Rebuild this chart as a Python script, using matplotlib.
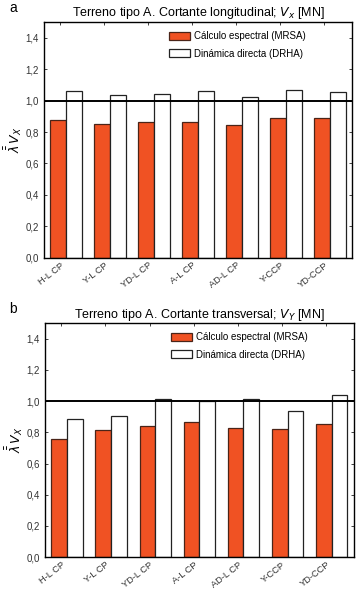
import matplotlib
matplotlib.use("Agg")
import matplotlib.pyplot as plt
from matplotlib.ticker import FuncFormatter
import numpy as np

categories = ["H-L CP", "Y-L CP", "YD-L CP", "A-L CP", "AD-L CP", "Y-CCP", "YD-CCP"]
mrsa_long = [0.875, 0.850, 0.862, 0.862, 0.842, 0.892, 0.888]
drha_long = [1.062, 1.037, 1.045, 1.062, 1.020, 1.066, 1.057]
mrsa_trans = [0.755, 0.812, 0.842, 0.867, 0.830, 0.820, 0.852]
drha_trans = [0.887, 0.907, 1.012, 1.003, 1.012, 0.935, 1.040]
yticks = [0.0, 0.2, 0.4, 0.6, 0.8, 1.0, 1.2, 1.4]

RED = "#F05223"
plt.rcParams['font.family'] = ['Liberation Sans', 'DejaVu Sans']

fig = plt.figure(figsize=(3.57, 5.94), dpi=100)

def panel(rect, red, white, title, letter):
    ax = fig.add_axes(rect)
    x = np.arange(len(categories))
    w = 0.355
    ax.bar(x - w / 2, red, width=w, color=RED, edgecolor="#4a2418", linewidth=0.9,
           label="Cálculo espectral (MRSA)", zorder=2)
    ax.bar(x + w / 2, white, width=w, color="white", edgecolor="#222222", linewidth=0.9,
           label="Dinámica directa (DRHA)", zorder=2)
    ax.axhline(1.0, color="black", linewidth=1.4, zorder=3)
    ax.set_xlim(-0.5, len(categories) - 0.5)
    ax.set_ylim(0, 1.5)
    ax.set_yticks(yticks)
    ax.yaxis.set_major_formatter(FuncFormatter(lambda v, p: f"{v:.1f}".replace(".", ",")))
    ax.set_xticks(x - 0.13)
    ax.set_xticklabels(categories, rotation=38, ha="right", rotation_mode="anchor", fontsize=6.7)
    ax.tick_params(direction="in", top=True, right=True, length=2.5, width=0.6,
                   labelsize=7, colors="#222222", labelcolor="#333333")
    ax.tick_params(axis="x", pad=2, labelsize=6.7)
    for s in ax.spines.values():
        s.set_linewidth(1.0)
    ax.set_ylabel(r"$\bar{\bar{\lambda}}\,V_X$", fontsize=9, labelpad=1)
    ax.legend(loc="upper right", bbox_to_anchor=(0.87, 0.985), frameon=False,
              fontsize=7, handlelength=2.2, handleheight=0.9, handletextpad=0.4,
              labelspacing=0.75, borderaxespad=0.2)
    ax.set_title(title, fontsize=9, pad=4)
    bb = ax.get_position()
    fig.text(0.025, bb.y1 + 0.012, letter, fontsize=10, ha="left", va="bottom")
    return ax

panel([0.123, 0.566, 0.863, 0.397], mrsa_long, drha_long,
      r"Terreno tipo A. Cortante longitudinal; $V_x$ [MN]", "a")
panel([0.126, 0.062, 0.865, 0.394], mrsa_trans, drha_trans,
      r"Terreno tipo A. Cortante transversal; $V_Y$ [MN]", "b")

fig.savefig("out.png", dpi=100)
